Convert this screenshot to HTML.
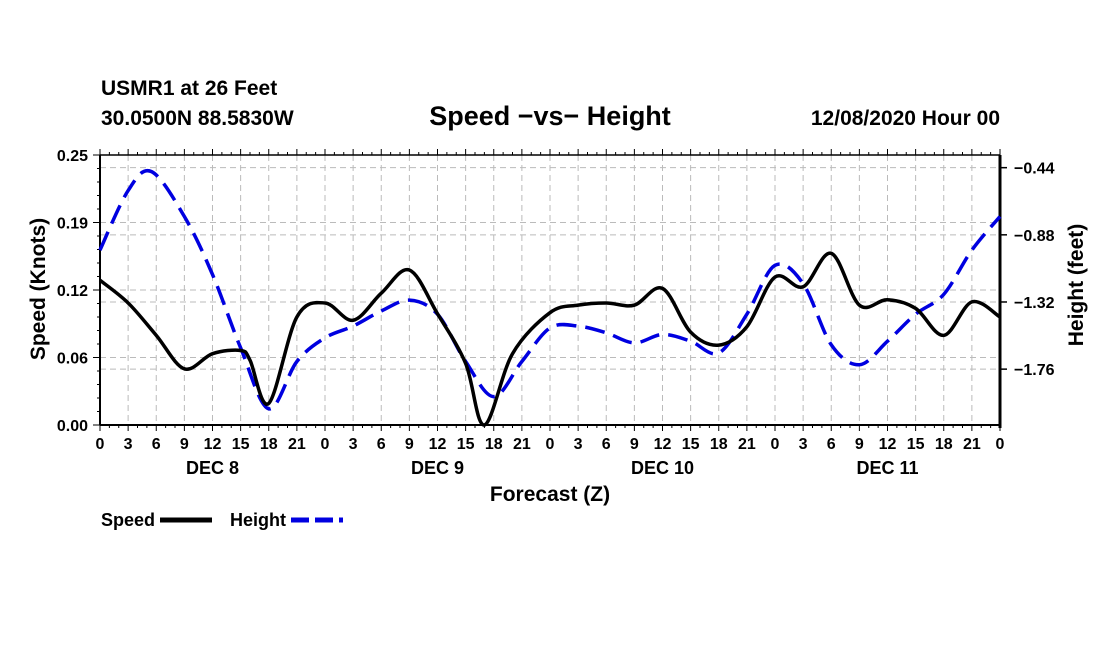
<!DOCTYPE html>
<html><head><meta charset="utf-8"><style>
body{margin:0;background:#fff;}
svg text{font-family:"Liberation Sans",Arial,sans-serif;font-weight:bold;fill:#000;}
</style></head><body>
<svg id="chart" width="1100" height="650" viewBox="0 0 1100 650" xmlns="http://www.w3.org/2000/svg">
<text x="101" y="95" font-size="21">USMR1 at 26 Feet</text>
<text x="101" y="125" font-size="21">30.0500N 88.5830W</text>
<text x="550" y="125" font-size="27" text-anchor="middle">Speed −vs− Height</text>
<text x="1000" y="125" font-size="21" text-anchor="end">12/08/2020 Hour 00</text>
<text transform="translate(45,289) rotate(-90)" font-size="21" text-anchor="middle">Speed (Knots)</text>
<text transform="translate(1083,285) rotate(-90)" font-size="21" text-anchor="middle">Height (feet)</text>
<text x="550" y="501" font-size="21" text-anchor="middle">Forecast (Z)</text>
<g id="grid"></g><g id="axes"></g><g id="series"></g>
<g>
<text x="101" y="526" font-size="18">Speed</text>
<line x1="160" y1="520" x2="212" y2="520" stroke="#000" stroke-width="5"/>
<text x="230" y="526" font-size="18">Height</text>
<line x1="291" y1="520" x2="343" y2="520" stroke="#0000e0" stroke-width="5" stroke-dasharray="18,6"/>
</g>
</svg>
<script>
const speedHours=[0,3,6,9,12,15,16,18,21,24,27,30,33,36,39,41,44,48,51,54,57,60,63,66,69,72,75,78,81,84,87,90,93,96];
const speedVals=[0.134,0.113,0.083,0.052,0.066,0.069,0.060,0.020,0.100,0.113,0.097,0.122,0.1435,0.103,0.057,0.0,0.066,0.104,0.111,0.113,0.111,0.1265,0.086,0.074,0.091,0.137,0.128,0.159,0.111,0.116,0.108,0.083,0.114,0.100];
const heightHours=[0,3,5.5,9,12,15,18,21,24,27,30,33,36,39,42,45,48,51,54,57,60,63,66,69,72,75,78,81,84,87,90,93,96];
const heightVals=[-0.98,-0.59,-0.466,-0.76,-1.14,-1.62,-2.02,-1.71,-1.555,-1.478,-1.379,-1.308,-1.40,-1.71,-1.94,-1.71,-1.49,-1.478,-1.522,-1.588,-1.533,-1.577,-1.654,-1.40,-1.08,-1.20,-1.60,-1.731,-1.577,-1.40,-1.27,-0.98,-0.76];
const xTickLabels=["0","3","6","9","12","15","18","21"];
const dayLabels=["DEC 8","DEC 9","DEC 10","DEC 11"];
const leftTicks=[0,0.0625,0.125,0.1875,0.25];
const leftTickLabels=["0.00","0.06","0.12","0.19","0.25"];
const rightTicks=[-0.44,-0.88,-1.32,-1.76];

const X0=100,X1=1000,YT=155,YB=425;
const x=h=>X0+h*(X1-X0)/96;
const yL=v=>YB-v*(YB-YT)/0.25;
const RMIN=-2.126,RMAX=-0.357;
const yR=v=>YB-(v-RMIN)*(YB-YT)/(RMAX-RMIN);
const NS="http://www.w3.org/2000/svg";
function mk(tag,attrs,parent){const e=document.createElementNS(NS,tag);for(const k in attrs)e.setAttribute(k,attrs[k]);parent.appendChild(e);return e;}
const grid=document.getElementById('grid'),axes=document.getElementById('axes'),series=document.getElementById('series');
const gs={stroke:"#bbb","stroke-width":1,"stroke-dasharray":"6,4"};
for(let h=3;h<96;h+=3){const l=mk('line',Object.assign({x1:x(h),x2:x(h),y1:YT,y2:YB},gs),grid);

}
leftTicks.slice(1,-1).forEach(v=>{const l=mk('line',Object.assign({x1:X0,x2:X1,y1:yL(v),y2:yL(v)},gs),grid);

});
rightTicks.forEach(v=>{const l=mk('line',Object.assign({x1:X0,x2:X1,y1:yR(v),y2:yR(v)},gs),grid);

});
mk('line',{x1:X0,x2:X1,y1:YT,y2:YT,stroke:"#000","stroke-width":1.5},axes);
const bx=mk('line',{x1:X0,x2:X1,y1:YB,y2:YB,stroke:"#000","stroke-width":2},axes);


const la=mk('line',{x1:X0,x2:X0,y1:YT,y2:YB,stroke:"#000","stroke-width":2},axes);


const ra=mk('line',{x1:X1,x2:X1,y1:YT,y2:YB+3,stroke:"#000","stroke-width":3},axes);


for(let h=0;h<=96;h+=1){const big=h%3===0;
mk('line',{x1:x(h),x2:x(h),y1:YB,y2:YB+(big?6:3),stroke:"#000","stroke-width":1},axes);
mk('line',{x1:x(h),x2:x(h),y1:YT,y2:YT-(big?6:3),stroke:"#000","stroke-width":1},axes);
if(big){const t=mk('text',{x:x(h),y:YB+24,"font-size":16,"text-anchor":"middle"},axes);t.textContent=xTickLabels[(h/3)%8];

}}
dayLabels.forEach((d,i)=>{const t=mk('text',{x:x(12+24*i),y:YB+49,"font-size":18,"text-anchor":"middle"},axes);t.textContent=d;

});
for(let v=0;v<=0.25001;v+=0.0125){mk('line',{x1:X0,x2:X0-(Math.abs(v/0.0625-Math.round(v/0.0625))<1e-6?7:3),y1:yL(v),y2:yL(v),stroke:"#000"},axes);}
leftTicks.forEach((v,i)=>{const t=mk('text',{x:X0-12,y:yL(v)+6,"font-size":16,"text-anchor":"end"},axes);t.textContent=leftTickLabels[i];

});
rightTicks.forEach(v=>{mk('line',{x1:X1,x2:X1+7,y1:yR(v),y2:yR(v),stroke:"#000","stroke-width":1.5},axes);
const t=mk('text',{x:X1+14,y:yR(v)+6,"font-size":16},axes);t.textContent='−'+Math.abs(v).toFixed(2);

});
function smooth(pts){let d=`M${pts[0][0]},${pts[0][1]}`;
for(let i=0;i<pts.length-1;i++){const p0=pts[i-1]||pts[i],p1=pts[i],p2=pts[i+1],p3=pts[i+2]||p2;
d+=` C${p1[0]+(p2[0]-p0[0])/6},${p1[1]+(p2[1]-p0[1])/6} ${p2[0]-(p3[0]-p1[0])/6},${p2[1]-(p3[1]-p1[1])/6} ${p2[0]},${p2[1]}`;}return d;}
const hp=mk('path',{d:smooth(heightHours.map((h,i)=>[x(h),yR(heightVals[i])])),fill:"none",stroke:"#0000e0","stroke-width":3.5,"stroke-dasharray":"20,9"},series);


const sp=mk('path',{d:smooth(speedHours.map((h,i)=>[x(h),yL(speedVals[i])])),fill:"none",stroke:"#000","stroke-width":3.5},series);


</script>
</body></html>
